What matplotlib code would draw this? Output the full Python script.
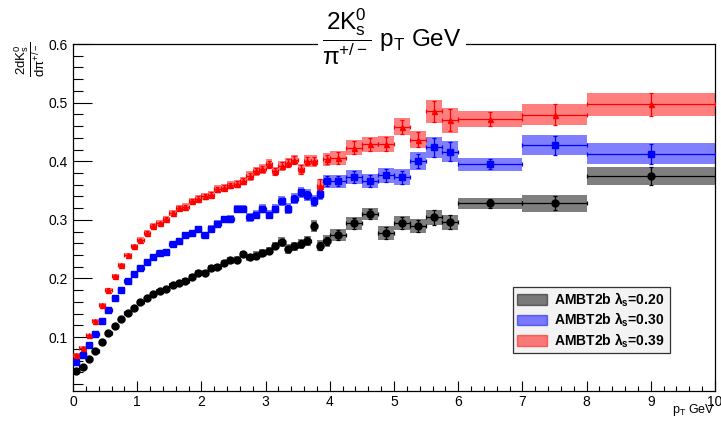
import matplotlib
matplotlib.use("Agg")
import matplotlib.pyplot as plt
import numpy as np
from matplotlib.patches import Patch
from matplotlib.ticker import MultipleLocator

plt.rcParams['font.family'] = ['Liberation Sans', 'DejaVu Sans']
plt.rcParams['mathtext.fontset'] = 'custom'
plt.rcParams['mathtext.rm'] = 'Liberation Sans'
plt.rcParams['mathtext.it'] = 'Liberation Sans'
plt.rcParams['mathtext.bf'] = 'Liberation Sans:bold'
plt.rcParams['mathtext.default'] = 'regular'

# bin edges in pT (GeV)
pt_edges = [0.0, 0.1, 0.2, 0.3, 0.4, 0.5, 0.6, 0.7, 0.8, 0.9,
            1.0, 1.1, 1.2, 1.3, 1.4, 1.5, 1.6, 1.7, 1.8, 1.9,
            2.0, 2.1, 2.2, 2.3, 2.4, 2.5, 2.6, 2.7, 2.8, 2.9,
            3.0, 3.1, 3.2, 3.3, 3.4, 3.5, 3.6, 3.7, 3.8, 3.9,
            4.0, 4.25, 4.5, 4.75, 5.0, 5.25, 5.5, 5.75, 6.0, 7.0, 8.0, 10.0]

labels = [r'AMBT2b $\mathbf{\lambda_s}$=0.20', r'AMBT2b $\mathbf{\lambda_s}$=0.30',
          r'AMBT2b $\mathbf{\lambda_s}$=0.39']

# lambda_s = 0.20
ratio_020 = [0.042, 0.049, 0.062, 0.076, 0.092, 0.107, 0.119, 0.131, 0.141, 0.150,
             0.159, 0.166, 0.173, 0.178, 0.182, 0.189, 0.192, 0.196, 0.202, 0.209,
             0.210, 0.218, 0.220, 0.226, 0.231, 0.232, 0.241, 0.236, 0.239, 0.243,
             0.247, 0.256, 0.262, 0.250, 0.255, 0.259, 0.264, 0.289, 0.256, 0.264,
             0.274, 0.294, 0.310, 0.277, 0.295, 0.290, 0.304, 0.296, 0.328, 0.328, 0.375]
sys_020 = [0.002, 0.002, 0.002, 0.002, 0.002, 0.003, 0.003, 0.003, 0.003, 0.003,
           0.004, 0.004, 0.004, 0.004, 0.004, 0.004, 0.004, 0.005, 0.005, 0.005,
           0.005, 0.005, 0.005, 0.006, 0.006, 0.006, 0.006, 0.006, 0.007, 0.007,
           0.007, 0.007, 0.008, 0.008, 0.008, 0.009, 0.009, 0.010, 0.010, 0.010,
           0.010, 0.011, 0.011, 0.012, 0.012, 0.012, 0.013, 0.013, 0.010, 0.014, 0.016]
stat_020 = [0.001, 0.001, 0.001, 0.001, 0.001, 0.001, 0.001, 0.001, 0.001, 0.001,
            0.002, 0.002, 0.002, 0.002, 0.002, 0.002, 0.002, 0.002, 0.002, 0.002,
            0.003, 0.003, 0.003, 0.003, 0.003, 0.003, 0.003, 0.003, 0.004, 0.004,
            0.004, 0.004, 0.005, 0.005, 0.005, 0.006, 0.006, 0.007, 0.007, 0.007,
            0.008, 0.009, 0.009, 0.010, 0.010, 0.010, 0.012, 0.012, 0.008, 0.012, 0.015]

# lambda_s = 0.30
ratio_030 = [0.057, 0.069, 0.086, 0.105, 0.127, 0.147, 0.166, 0.181, 0.196, 0.207,
             0.218, 0.228, 0.236, 0.243, 0.245, 0.259, 0.264, 0.274, 0.277, 0.284,
             0.274, 0.285, 0.293, 0.301, 0.301, 0.319, 0.319, 0.304, 0.309, 0.319,
             0.309, 0.319, 0.332, 0.319, 0.336, 0.347, 0.342, 0.332, 0.344, 0.366,
             0.366, 0.373, 0.366, 0.376, 0.373, 0.400, 0.424, 0.416, 0.395, 0.427, 0.413]
sys_030 = [0.002, 0.002, 0.002, 0.002, 0.003, 0.003, 0.003, 0.003, 0.003, 0.004,
           0.004, 0.004, 0.004, 0.005, 0.005, 0.005, 0.005, 0.005, 0.006, 0.006,
           0.006, 0.006, 0.006, 0.006, 0.007, 0.007, 0.007, 0.007, 0.007, 0.008,
           0.008, 0.008, 0.008, 0.009, 0.009, 0.009, 0.010, 0.010, 0.010, 0.011,
           0.011, 0.012, 0.012, 0.013, 0.013, 0.015, 0.018, 0.018, 0.011, 0.017, 0.018]
stat_030 = [0.001, 0.001, 0.001, 0.001, 0.001, 0.001, 0.001, 0.001, 0.001, 0.002,
            0.002, 0.002, 0.002, 0.002, 0.002, 0.002, 0.002, 0.003, 0.003, 0.003,
            0.003, 0.003, 0.003, 0.003, 0.004, 0.004, 0.004, 0.004, 0.004, 0.005,
            0.005, 0.005, 0.005, 0.006, 0.006, 0.006, 0.007, 0.007, 0.007, 0.008,
            0.009, 0.010, 0.010, 0.011, 0.011, 0.012, 0.016, 0.016, 0.009, 0.016, 0.017]

# lambda_s = 0.39
ratio_039 = [0.070, 0.082, 0.103, 0.128, 0.155, 0.181, 0.204, 0.223, 0.240, 0.255,
             0.266, 0.278, 0.290, 0.294, 0.301, 0.312, 0.320, 0.322, 0.332, 0.336,
             0.340, 0.343, 0.352, 0.355, 0.359, 0.361, 0.366, 0.375, 0.383, 0.387,
             0.395, 0.383, 0.392, 0.397, 0.402, 0.386, 0.400, 0.400, 0.358, 0.403,
             0.405, 0.423, 0.429, 0.429, 0.459, 0.437, 0.485, 0.470, 0.472, 0.479, 0.497]
sys_039 = [0.002, 0.002, 0.002, 0.003, 0.003, 0.003, 0.003, 0.004, 0.004, 0.004,
           0.004, 0.005, 0.005, 0.005, 0.005, 0.005, 0.006, 0.006, 0.006, 0.006,
           0.006, 0.006, 0.007, 0.007, 0.007, 0.007, 0.007, 0.008, 0.008, 0.008,
           0.008, 0.008, 0.009, 0.009, 0.009, 0.010, 0.010, 0.010, 0.011, 0.011,
           0.012, 0.013, 0.013, 0.014, 0.014, 0.015, 0.020, 0.021, 0.013, 0.018, 0.019]
stat_039 = [0.001, 0.001, 0.001, 0.001, 0.001, 0.002, 0.002, 0.002, 0.002, 0.002,
            0.002, 0.003, 0.003, 0.003, 0.003, 0.003, 0.003, 0.003, 0.003, 0.004,
            0.004, 0.004, 0.004, 0.004, 0.004, 0.005, 0.005, 0.005, 0.005, 0.005,
            0.006, 0.006, 0.006, 0.006, 0.007, 0.007, 0.007, 0.007, 0.012, 0.008,
            0.010, 0.011, 0.011, 0.012, 0.012, 0.013, 0.018, 0.019, 0.012, 0.018, 0.019]

series = [
    (ratio_020, sys_020, stat_020, 'black', 'o', 5.0),
    (ratio_030, sys_030, stat_030, 'blue', 's', 4.6),
    (ratio_039, sys_039, stat_039, 'red', '^', 3.6),
]

lo = np.array(pt_edges[:-1])
hi = np.array(pt_edges[1:])
xc = (lo + hi) / 2
xerr = (hi - lo) / 2

fig = plt.figure(figsize=(7.21, 4.28), dpi=100)
ax = fig.add_axes([73 / 721, 37 / 428, 642 / 721, 347 / 428])

# systematic boxes first, then points on top
for vals, sys, stat, col, mk, ms in series:
    v = np.array(vals)
    s = np.array(sys)
    ax.bar(lo, 2 * s, width=hi - lo, bottom=v - s, align='edge',
           color=col, alpha=0.5, linewidth=0, zorder=2)

for vals, sys, stat, col, mk, ms in series:
    ax.errorbar(xc, vals, xerr=xerr, yerr=stat, fmt=mk, ms=ms, color=col,
                mec=col, elinewidth=0.9, capsize=1.5, capthick=0.9, zorder=3)

ax.set_xlim(0, 10)
ax.set_ylim(0.008, 0.6)

ax.xaxis.set_minor_locator(MultipleLocator(0.2))
ax.yaxis.set_minor_locator(MultipleLocator(0.02))
ax.set_xticks([0, 1, 2, 3, 4, 5, 6, 7, 8, 9, 10])
ax.set_xticklabels(['0', '1', '2', '3', '4', '5', '6', '7', '8', '9', '10'])
ax.set_yticks([0.1, 0.2, 0.3, 0.4, 0.5, 0.6])
ax.set_yticklabels(['0.1', '0.2', '0.3', '0.4', '0.5', '0.6'])

ax.tick_params(axis='both', which='both', direction='in', top=False, right=False,
               labelsize=10, width=0.8)
ax.tick_params(axis='y', which='major', length=13.5, pad=4)
ax.tick_params(axis='y', which='minor', length=7)
ax.tick_params(axis='x', which='major', length=7, pad=3)
ax.tick_params(axis='x', which='minor', length=3.5)
for sp in ax.spines.values():
    sp.set_linewidth(0.9)

handles = [Patch(facecolor='black', alpha=0.5, edgecolor='black', linewidth=1),
           Patch(facecolor='blue', alpha=0.5, edgecolor='blue', linewidth=1),
           Patch(facecolor='red', alpha=0.5, edgecolor='red', linewidth=1)]
leg = ax.legend(handles, labels, loc='upper left',
                bbox_to_anchor=(0.686, 0.11, 0.244, 0.19), mode='expand',
                borderaxespad=0, fancybox=False, framealpha=1, facecolor='#f3f3f3',
                edgecolor='#333333', prop={'weight': 'bold', 'size': 10},
                handlelength=2.2, handleheight=0.75, handletextpad=0.45,
                labelspacing=0.15, borderpad=0.25)
leg.get_frame().set_linewidth(0.9)

# title with white background covering the frame line
fig.text(392 / 721, 1 - 37 / 428, r'$\dfrac{2K_s^0}{\pi^{+/-}}$ p$_T$ GeV',
         ha='center', va='center', fontsize=17.5,
         bbox=dict(facecolor='white', edgecolor='none', pad=3))

# y title (ROOT style, at top of axis)
fig.text(30 / 721, 1 - 42 / 428, r'$\dfrac{2dK_s^0}{d\pi^{+/-}}$', rotation=90,
         ha='center', va='top', fontsize=9.5)

# x title at right end
fig.text(715 / 721, 1 - 413 / 428, r'p$_T$ GeV', ha='right', va='baseline', fontsize=9)

fig.savefig('out.png', dpi=100)
